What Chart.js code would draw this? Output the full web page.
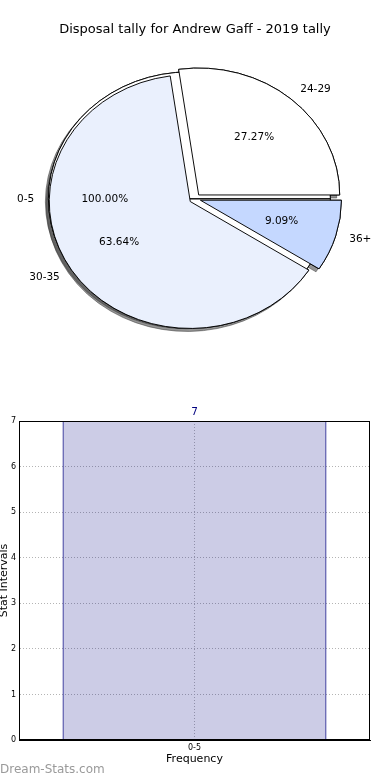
<!DOCTYPE html>
<html>
<head>
<meta charset="utf-8">
<script src="https://cdn.jsdelivr.net/npm/chart.js@4.4.1/dist/chart.umd.min.js"></script>
<style>
  html, body { margin: 0; padding: 0; background: #fff; }
  #page { position: relative; width: 390px; height: 780px; overflow: hidden; }
  #pieChart { position: absolute; left: 0; top: 0; }
  #barChart { position: absolute; left: 0; top: 380px; }
  #mark { position: absolute; left: 0; top: 762px; font: 12px "DejaVu Sans", sans-serif; color: #9a9a9a; }
</style>
</head>
<body>
<div id="page">
  <canvas id="pieChart" width="390" height="380"></canvas>
  <canvas id="barChart" width="390" height="400"></canvas>
  <div id="mark">Dream-Stats.com</div>
</div>
<script>
// Данные пирога: 0-5 нарисован отдельным полным кругом под остальными
const pieTitle = 'Disposal tally for Andrew Gaff - 2019 tally';
const categories = ['0-5', '24-29', '30-35', '36+'];
const pieCounts = [7, 3, 7, 1];
const pieColors = ['#ffffff', '#ffffff', '#eaf0fd', '#c5d8ff'];

// Данные столбиков
const barCategories = ['0-5'];
const barValues = [7];
const yTicks = [0, 1, 2, 3, 4, 5, 6, 7];

const FONT = '"DejaVu Sans", sans-serif';
const EXPLODE = 0.04;   // доля радиуса
const SQUASH = 0.9;     // пирог слегка сплюснут по вертикали

// основной пирог идёт по часовой стрелке от востока, поэтому порядок обратный
const mainLabels = categories.slice(1).reverse();
const mainCounts = pieCounts.slice(1).reverse();
const mainColors = pieColors.slice(1).reverse();

const explodedPie = {
  id: 'explodedPie',
  beforeDatasetsDraw(chart) {
    const ctx = chart.ctx;
    const arcs = chart.data.datasets.flatMap((d, i) => chart.getDatasetMeta(i).data);
    const R = chart.getDatasetMeta(0).data[0].outerRadius;
    const cx = arcs[0].x, cy = arcs[0].y;
    const paint = (shadow) => arcs.forEach(arc => {
      const mid = (arc.startAngle + arc.endAngle) / 2;
      const keep = [arc.outerRadius, arc.innerRadius];
      arc.outerRadius = R;
      arc.innerRadius = 0;
      ctx.save();
      if (shadow) {
        ctx.shadowColor = 'rgba(60,60,60,0.55)';
        ctx.shadowOffsetX = -3;
        ctx.shadowOffsetY = 3;
        ctx.shadowBlur = 0;
      }
      ctx.translate(cx, cy);
      ctx.scale(1, SQUASH);
      ctx.translate(-cx, -cy);
      ctx.translate(Math.cos(mid) * EXPLODE * R, Math.sin(mid) * EXPLODE * R);
      arc.draw(ctx);
      ctx.restore();
      arc.outerRadius = keep[0];
      arc.innerRadius = keep[1];
    });
    paint(true);
    paint(false);
    return false;
  },
  afterDraw(chart) {
    const ctx = chart.ctx;
    const R = chart.getDatasetMeta(0).data[0].outerRadius;
    ctx.save();
    ctx.font = '10.5px ' + FONT;
    ctx.fillStyle = '#000';
    ctx.textBaseline = 'middle';
    chart.data.datasets.forEach((ds, i) => {
      const total = ds.data.reduce((a, b) => a + b, 0);
      chart.getDatasetMeta(i).data.forEach((arc, j) => {
        const mid = (arc.startAngle + arc.endAngle) / 2;
        const c = Math.cos(mid), s = Math.sin(mid);
        const ox = arc.x + c * EXPLODE * R;
        const oy = arc.y + s * EXPLODE * R * SQUASH;
        ctx.textAlign = 'center';
        ctx.fillText((ds.data[j] / total * 100).toFixed(2) + '%', ox + c * 0.6 * R, oy + s * 0.6 * R * SQUASH);
        ctx.textAlign = c >= 0 ? 'left' : 'right';
        ctx.fillText(ds.sliceLabels[j], ox + c * 1.1 * R, oy + s * 1.1 * R * SQUASH);
      });
    });
    ctx.restore();
  }
};

new Chart(document.getElementById('pieChart').getContext('2d'), {
  type: 'pie',
  data: {
    labels: mainLabels,
    datasets: [{
      data: [pieCounts[0]],
      sliceLabels: [categories[0]],
      backgroundColor: [pieColors[0]],
      borderColor: '#000',
      borderWidth: 1,
      radius: 141
    }, {
      data: mainCounts,
      sliceLabels: mainLabels,
      backgroundColor: mainColors,
      borderColor: '#000',
      borderWidth: 1,
      radius: 141
    }]
  },
  options: {
    responsive: false,
    animation: false,
    events: [],
    rotation: 90,
    layout: { padding: { top: 0, bottom: 20, left: 0, right: 0 } },
    plugins: {
      legend: { display: false },
      tooltip: { enabled: false },
      title: {
        display: true,
        text: pieTitle,
        color: '#000',
        font: { family: FONT, size: 13, weight: 'normal' },
        padding: { top: 22, bottom: 0 }
      }
    }
  },
  plugins: [explodedPie]
});

const frame = {
  id: 'frame',
  afterDatasetsDraw(chart) {
    const ctx = chart.ctx;
    const bar = chart.getDatasetMeta(0).data[0];
    ctx.save();
    ctx.font = '10.5px ' + FONT;
    ctx.fillStyle = '#000080';
    ctx.textAlign = 'center';
    ctx.textBaseline = 'middle';
    ctx.fillText(String(barValues[0]), bar.x, bar.y - 9);
    ctx.restore();
  },
  afterDraw(chart) {
    const a = chart.chartArea;
    const ctx = chart.ctx;
    ctx.save();
    ctx.strokeStyle = '#000';
    ctx.lineWidth = 1;
    ctx.strokeRect(Math.round(a.left) + 0.5, Math.round(a.top) + 0.5,
      Math.round(a.right - a.left) - 1, Math.round(a.bottom - a.top) - 1);
    ctx.restore();
  }
};

const tickFont = { family: FONT, size: 8 };
const titleFont = { family: FONT, size: 11, lineHeight: 0.8 };

new Chart(document.getElementById('barChart').getContext('2d'), {
  type: 'bar',
  data: {
    labels: barCategories,
    datasets: [{
      data: barValues,
      backgroundColor: 'rgba(0,0,128,0.2)',
      borderColor: '#000080',
      borderWidth: 1,
      barPercentage: 0.752,
      categoryPercentage: 1
    }]
  },
  options: {
    responsive: false,
    animation: false,
    events: [],
    layout: { padding: { top: 41, right: 20, bottom: 16, left: 0 } },
    plugins: { legend: { display: false }, tooltip: { enabled: false } },
    scales: {
      x: {
        offset: true,
        grid: { offset: false, color: '#b4b4b4', drawTicks: false },
        border: { color: '#000', dash: [1, 2] },
        ticks: { font: tickFont, color: '#000', padding: 3 },
        title: { display: true, text: 'Frequency', color: '#000', font: titleFont, padding: 0 },
        afterFit: s => { s.height = 24; }
      },
      y: {
        min: 0,
        max: 7,
        afterBuildTicks: s => { s.ticks = yTicks.map(v => ({ value: v })); },
        grid: { color: '#b4b4b4', drawTicks: false },
        border: { color: '#000', dash: [1, 2] },
        ticks: { font: tickFont, color: '#000', padding: 3 },
        title: { display: true, text: 'Stat Intervals', color: '#000', font: titleFont, padding: 0 },
        afterFit: s => { s.width = 19; }
      }
    }
  },
  plugins: [frame]
});
</script>
</body>
</html>
